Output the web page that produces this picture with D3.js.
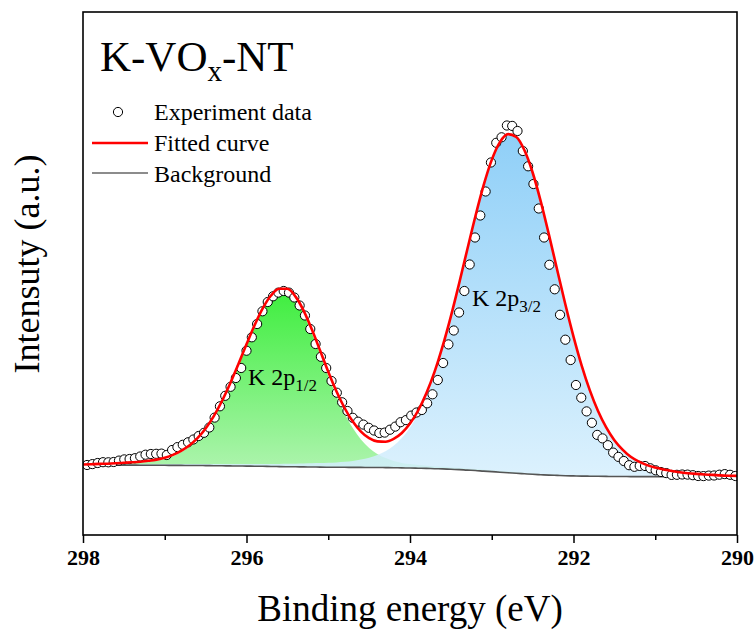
<!DOCTYPE html>
<html><head><meta charset="utf-8">
<script src="https://cdn.jsdelivr.net/npm/d3@7"></script>
<style>body{margin:0;background:#fff}svg{display:block}</style>
</head><body>
<svg id="c" width="755" height="632"></svg>
<script>
// ---------- data ----------
const tickValues = [298, 296, 294, 292, 290];
const minorTicks = [297, 295, 293, 291];
const xTitle = "Binding energy (eV)";
const yTitle = "Intensuty (a.u.)";

// experimental points (binding energy, eV)
const expEnergy = [297.950,297.885,297.820,297.755,297.690,297.625,297.560,297.495,297.430,297.365,
297.300,297.235,297.170,297.105,297.040,296.975,296.910,296.845,296.780,296.715,
296.650,296.585,296.520,296.455,296.390,296.325,296.260,296.195,296.130,296.065,
296.000,295.935,295.870,295.805,295.740,295.675,295.610,295.545,295.480,295.415,
295.350,295.285,295.220,295.155,295.090,295.025,294.960,294.895,294.830,294.765,
294.700,294.635,294.570,294.505,294.440,294.375,294.310,294.245,294.180,294.115,
294.050,293.985,293.920,293.855,293.790,293.725,293.660,293.595,293.530,293.465,
293.400,293.335,293.270,293.205,293.140,293.075,293.010,292.945,292.880,292.815,
292.750,292.685,292.620,292.555,292.490,292.425,292.360,292.295,292.230,292.165,
292.100,292.035,291.970,291.905,291.840,291.775,291.710,291.645,291.580,291.515,
291.450,291.385,291.320,291.255,291.190,291.125,291.060,290.995,290.930,290.865,
290.800,290.735,290.670,290.605,290.540,290.475,290.410,290.345,290.280,290.215,
290.150,290.085,290.020];
// experimental intensity (a.u.)
const expIntensity = [0.700,0.709,0.720,0.728,0.727,0.730,0.744,0.756,0.760,0.768,
0.785,0.803,0.810,0.812,0.814,0.800,0.850,0.879,0.902,0.927,
0.955,0.990,1.022,1.075,1.174,1.287,1.392,1.482,1.570,1.670,
1.843,1.977,2.110,2.237,2.330,2.387,2.424,2.440,2.424,2.375,
2.295,2.195,2.060,1.910,1.782,1.670,1.540,1.423,1.327,1.240,
1.172,1.133,1.104,1.072,1.045,1.020,1.024,1.053,1.084,1.128,
1.149,1.194,1.225,1.250,1.317,1.407,1.550,1.720,1.906,2.045,
2.225,2.440,2.705,2.975,3.195,3.435,3.725,3.922,3.977,4.095,
4.091,4.040,3.840,3.687,3.510,3.265,2.975,2.702,2.457,2.202,
1.953,1.750,1.500,1.373,1.236,1.122,1.001,0.966,0.898,0.824,
0.781,0.740,0.698,0.682,0.691,0.690,0.667,0.647,0.630,0.619,
0.601,0.602,0.605,0.604,0.598,0.590,0.589,0.594,0.595,0.603,
0.609,0.602,0.590];

// fit grid (eV)
const fitEnergy = [298.0,297.9,297.8,297.7,297.6,297.5,297.4,297.3,297.2,297.1,
297.0,296.9,296.8,296.7,296.6,296.5,296.4,296.3,296.2,296.1,
296.0,295.9,295.8,295.7,295.6,295.5,295.4,295.3,295.2,295.1,
295.0,294.9,294.8,294.7,294.6,294.5,294.4,294.3,294.2,294.1,
294.0,293.9,293.8,293.7,293.6,293.5,293.4,293.3,293.2,293.1,
293.0,292.9,292.8,292.7,292.6,292.5,292.4,292.3,292.2,292.1,
292.0,291.9,291.8,291.7,291.6,291.5,291.4,291.3,291.2,291.1,
291.0,290.9,290.8,290.7,290.6,290.5,290.4,290.3,290.2,290.1,290.0];
const background = [0.700,0.700,0.700,0.699,0.699,0.699,0.699,0.698,0.698,0.697,
0.697,0.696,0.696,0.695,0.695,0.694,0.693,0.692,0.691,0.690,
0.689,0.688,0.687,0.685,0.684,0.683,0.682,0.681,0.680,0.679,
0.678,0.677,0.677,0.676,0.676,0.675,0.675,0.674,0.673,0.671,
0.670,0.668,0.666,0.663,0.661,0.657,0.654,0.649,0.645,0.639,
0.634,0.628,0.623,0.617,0.612,0.607,0.603,0.599,0.596,0.593,
0.591,0.589,0.588,0.587,0.586,0.585,0.585,0.584,0.584,0.584,
0.584,0.583,0.583,0.583,0.583,0.583,0.583,0.583,0.583,0.583,0.583];
// K 2p1/2 component (height above background)
const peak12 = [0.003,0.005,0.007,0.009,0.012,0.016,0.020,0.026,0.034,0.046,
0.064,0.092,0.132,0.185,0.258,0.355,0.479,0.630,0.805,0.997,
1.197,1.389,1.558,1.684,1.751,1.750,1.671,1.527,1.337,1.126,
0.911,0.711,0.537,0.393,0.280,0.196,0.136,0.095,0.068,0.050,
0.039,0.032,0.027,0.023,0.021,0.019,0.017,0.016,0.014,0.013,
0.012,0.012,0.011,0.010,0.009,0.009,0.008,0.008,0.007,0.007,
0.007,0.006,0.006,0.005,0.005,0.004,0.004,0.003,0.003,0.003,
0.002,0.002,0.002,0.001,0.001,0.001,0.001,0.001,0.000,0.000,0.000];
// K 2p3/2 component (height above background)
const peak32 = [0.002,0.003,0.004,0.005,0.006,0.007,0.008,0.009,0.010,0.011,
0.012,0.013,0.014,0.015,0.015,0.016,0.017,0.018,0.019,0.020,
0.021,0.023,0.024,0.026,0.027,0.029,0.031,0.034,0.037,0.040,
0.044,0.049,0.056,0.065,0.078,0.097,0.125,0.164,0.220,0.299,
0.405,0.545,0.724,0.945,1.209,1.511,1.842,2.188,2.529,2.844,
3.105,3.289,3.375,3.353,3.226,3.009,2.723,2.394,2.049,1.707,
1.386,1.099,0.852,0.648,0.485,0.359,0.265,0.195,0.147,0.112,
0.089,0.070,0.055,0.043,0.034,0.027,0.021,0.017,0.013,0.010,0.008];
// fitted envelope
const fitted = [0.705,0.708,0.711,0.713,0.717,0.722,0.727,0.733,0.742,0.754,
0.773,0.801,0.842,0.895,0.968,1.065,1.189,1.340,1.515,1.707,
1.907,2.100,2.269,2.395,2.462,2.462,2.384,2.242,2.054,1.845,
1.633,1.437,1.270,1.134,1.034,0.968,0.936,0.933,0.961,1.020,
1.114,1.245,1.417,1.631,1.891,2.187,2.513,2.853,3.188,3.496,
3.751,3.929,4.009,3.980,3.847,3.625,3.334,3.001,2.652,2.307,
1.984,1.694,1.446,1.240,1.076,0.948,0.854,0.782,0.734,0.699,
0.675,0.655,0.640,0.627,0.618,0.611,0.605,0.601,0.596,0.593,0.591];

// ---------- drawing ----------
const svg = d3.select("#c");
const serif = "'Liberation Serif','Times New Roman',serif";
const L = 83, R = 737, T = 12, B = 535;
const x = d3.scaleLinear().domain([298, 290]).range([L, R]);
const y = d3.scaleLinear().domain([0, 5.23]).range([B, T]);

const defs = svg.append("defs");
const gG = defs.append("linearGradient").attr("id","gGreen").attr("x1",0).attr("y1",0).attr("x2",0).attr("y2",1);
gG.append("stop").attr("offset","0%").attr("stop-color","#3fee3f");
gG.append("stop").attr("offset","100%").attr("stop-color","#b2f4b2");
const gB = defs.append("linearGradient").attr("id","gBlue").attr("x1",0).attr("y1",0).attr("x2",0).attr("y2",1);
gB.append("stop").attr("offset","0%").attr("stop-color","#7cc7f6");
gB.append("stop").attr("offset","100%").attr("stop-color","#d6effd");
defs.append("clipPath").attr("id","clip").append("rect").attr("x",L).attr("y",T).attr("width",R-L).attr("height",B-T);

const idx = d3.range(fitEnergy.length);
const plot = svg.append("g").attr("clip-path","url(#clip)");

plot.append("path").datum(idx)
  .attr("fill","url(#gGreen)")
  .attr("d", d3.area().curve(d3.curveMonotoneX)
    .x(i => x(fitEnergy[i])).y0(i => y(background[i])).y1(i => y(background[i] + peak12[i])));
plot.append("path").datum(idx)
  .attr("fill","url(#gBlue)").attr("fill-opacity",0.85)
  .attr("d", d3.area().curve(d3.curveMonotoneX)
    .x(i => x(fitEnergy[i])).y0(i => y(background[i])).y1(i => y(background[i] + peak32[i])));
plot.append("path").datum(idx)
  .attr("fill","none").attr("stroke","#555").attr("stroke-width",1.6)
  .attr("d", d3.line().curve(d3.curveMonotoneX).x(i => x(fitEnergy[i])).y(i => y(background[i])));

plot.append("g").selectAll("circle").data(d3.range(expEnergy.length)).join("circle")
  .attr("cx", i => x(expEnergy[i])).attr("cy", i => y(expIntensity[i])).attr("r", 4.6)
  .attr("fill","#fff").attr("stroke","#000").attr("stroke-width",1);

plot.append("path").datum(idx)
  .attr("fill","none").attr("stroke","#ff0000").attr("stroke-width",2.6)
  .attr("d", d3.line().curve(d3.curveMonotoneX).x(i => x(fitEnergy[i])).y(i => y(fitted[i])));

// frame
svg.append("rect").attr("x",L).attr("y",T).attr("width",R-L).attr("height",B-T)
  .attr("fill","none").attr("stroke","#000").attr("stroke-width",1.6);

// axes
const ax = svg.append("g").attr("transform",`translate(0,${B})`)
  .call(d3.axisBottom(x).tickValues(tickValues).tickFormat(d3.format("d")).tickSizeInner(8).tickSizeOuter(0).tickPadding(6));
ax.select(".domain").remove();
ax.selectAll("line").attr("stroke","#000").attr("stroke-width",1.5);
ax.selectAll("text").attr("font-family",serif).attr("font-weight","bold").attr("font-size",22).attr("fill","#000");
const axm = svg.append("g").attr("transform",`translate(0,${B})`)
  .call(d3.axisBottom(x).tickValues(minorTicks).tickFormat("").tickSizeInner(5).tickSizeOuter(0));
axm.select(".domain").remove();
axm.selectAll("line").attr("stroke","#000").attr("stroke-width",1.5);

// axis titles
svg.append("text").attr("x",(L+R)/2).attr("y",621).attr("text-anchor","middle")
  .attr("font-family",serif).attr("font-size",37).text(xTitle);
svg.append("text").attr("transform","translate(39,264) rotate(-90)").attr("text-anchor","middle")
  .attr("font-family",serif).attr("font-size",36).text(yTitle);

// title
const t = svg.append("text").attr("x",100).attr("y",71).attr("font-family",serif).attr("font-size",43);
t.append("tspan").text("K-VO");
t.append("tspan").attr("font-size",29).attr("dy",10).text("x");
t.append("tspan").attr("dy",-10).text("-NT");

// legend
svg.append("circle").attr("cx",118).attr("cy",112).attr("r",4.6).attr("fill","#fff").attr("stroke","#000");
svg.append("line").attr("x1",92).attr("x2",148).attr("y1",143).attr("y2",143).attr("stroke","#ff0000").attr("stroke-width",2.6);
svg.append("line").attr("x1",92).attr("x2",148).attr("y1",173).attr("y2",173).attr("stroke","#666").attr("stroke-width",1.3);
const legTexts = ["Experiment data","Fitted curve","Background"];
legTexts.forEach((s,k) => svg.append("text").attr("x",154).attr("y",120 + k*31)
  .attr("font-family",serif).attr("font-size",24).text(s));

// peak labels
function peakLabel(px, py, sub){
  const tx = svg.append("text").attr("x",px).attr("y",py).attr("font-family",serif).attr("font-size",24);
  tx.append("tspan").text("K 2p");
  tx.append("tspan").attr("font-size",17).attr("dy",6).text(sub);
}
peakLabel(248, 385, "1/2");
peakLabel(472, 306, "3/2");
</script>
</body></html>
